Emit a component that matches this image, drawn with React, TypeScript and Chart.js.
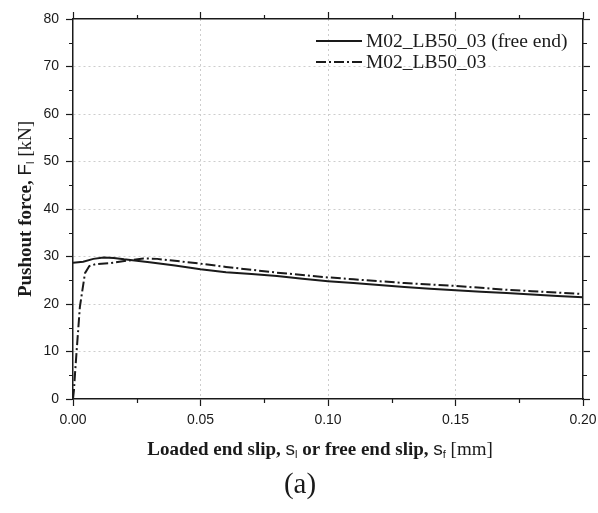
import React, { useEffect, useRef } from "react";
import { Chart, registerables } from "chart.js";

Chart.register(...registerables);

// ---- data ----
const seriesLabels = ["M02_LB50_03 (free end)", "M02_LB50_03"];

const freeEndSlip = [0, 0.004, 0.008, 0.012, 0.016, 0.02, 0.03, 0.04, 0.05, 0.06, 0.07, 0.08, 0.09, 0.1, 0.11, 0.12, 0.13, 0.14, 0.15, 0.16, 0.17, 0.18, 0.19, 0.2];
const freeEndForce = [28.7, 28.9, 29.5, 29.8, 29.7, 29.4, 28.8, 28.1, 27.3, 26.7, 26.3, 25.9, 25.3, 24.8, 24.4, 24.0, 23.6, 23.2, 22.9, 22.6, 22.3, 22.0, 21.7, 21.4];

const loadedSlip = [0, 0.0004, 0.0008, 0.00145, 0.0027, 0.0047, 0.0064, 0.009, 0.0145, 0.021, 0.0276, 0.033, 0.038, 0.045, 0.05, 0.06, 0.07, 0.08, 0.09, 0.1, 0.11, 0.12, 0.13, 0.14, 0.15, 0.16, 0.17, 0.18, 0.19, 0.2];
const loadedForce = [0, 2, 5.4, 10.3, 19.4, 26.5, 28.0, 28.4, 28.6, 29.1, 29.6, 29.5, 29.2, 28.8, 28.5, 27.8, 27.2, 26.6, 26.1, 25.6, 25.2, 24.8, 24.4, 24.1, 23.8, 23.4, 23.0, 22.7, 22.4, 22.1];

const xMajorTicks = [0, 0.05, 0.1, 0.15, 0.2];
const xMinorTicks = [0.025, 0.075, 0.125, 0.175];
const yMajorTicks = [0, 10, 20, 30, 40, 50, 60, 70, 80];
const yMinorTicks = [5, 15, 25, 35, 45, 55, 65, 75];

const xTitleParts = ["Loaded end slip, ", "s", "l", " or free end slip, ", "s", "f", " [mm]"];
const yTitleParts = ["Pushout force, ", "F", "l", " [kN]"];
const panelLabel = "(a)";

const INK = "#1a1a1a";
const GRID = "#cdcdcd";
const SERIF = "'Liberation Serif', 'Times New Roman', serif";
const SANS = "'Liberation Sans', Arial, sans-serif";

type Run = { t: string; font: string; dy?: number };

function drawRuns(ctx: CanvasRenderingContext2D, runs: Run[], cx: number, baseline: number) {
  const widths = runs.map((r) => {
    ctx.font = r.font;
    return ctx.measureText(r.t).width;
  });
  const total = widths.reduce((a, b) => a + b, 0);
  let x = cx - total / 2;
  ctx.textBaseline = "alphabetic";
  ctx.textAlign = "left";
  runs.forEach((r, i) => {
    ctx.font = r.font;
    ctx.fillText(r.t, x, baseline + (r.dy || 0));
    x += widths[i];
  });
}

const decorPlugin = {
  id: "decor",
  afterDraw(chart: any) {
    const ctx: CanvasRenderingContext2D = chart.ctx;
    const xs = chart.scales.x;
    const ys = chart.scales.y;
    const area = chart.chartArea;
    ctx.save();
    // minor ticks
    ctx.strokeStyle = INK;
    ctx.lineWidth = 1.2;
    ctx.setLineDash([]);
    ctx.beginPath();
    xMinorTicks.forEach((v) => {
      const px = Math.round(xs.getPixelForValue(v)) + 0.5;
      ctx.moveTo(px, area.bottom);
      ctx.lineTo(px, area.bottom + 4);
      ctx.moveTo(px, area.top);
      ctx.lineTo(px, area.top - 4);
    });
    yMinorTicks.forEach((v) => {
      const py = Math.round(ys.getPixelForValue(v)) + 0.5;
      ctx.moveTo(area.left, py);
      ctx.lineTo(area.left - 4, py);
      ctx.moveTo(area.right, py);
      ctx.lineTo(area.right + 4, py);
    });
    ctx.stroke();

    // legend
    const lx0 = 316, lx1 = 362, tx = 366;
    const rows = [41, 62];
    const dashes = [[], [10, 3, 2, 3]];
    ctx.fillStyle = INK;
    rows.forEach((y, i) => {
      ctx.beginPath();
      ctx.lineWidth = 2;
      ctx.setLineDash(dashes[i]);
      ctx.moveTo(lx0, y);
      ctx.lineTo(lx1, y);
      ctx.stroke();
      ctx.setLineDash([]);
      ctx.font = `19.5px ${SERIF}`;
      ctx.textBaseline = "middle";
      ctx.textAlign = "left";
      ctx.fillText(seriesLabels[i], tx, y + 1);
    });

    // x title
    const bold = `bold 19px ${SERIF}`;
    const sans = `19px ${SANS}`;
    const sub = `11px ${SANS}`;
    const reg = `19px ${SERIF}`;
    drawRuns(
      ctx,
      [
        { t: xTitleParts[0], font: bold },
        { t: xTitleParts[1], font: sans },
        { t: xTitleParts[2], font: sub, dy: 3 },
        { t: xTitleParts[3], font: bold },
        { t: xTitleParts[4], font: sans },
        { t: xTitleParts[5], font: sub, dy: 3 },
        { t: xTitleParts[6], font: reg },
      ],
      320,
      455
    );

    // y title
    ctx.save();
    ctx.translate(31, 209);
    ctx.rotate(-Math.PI / 2);
    drawRuns(
      ctx,
      [
        { t: yTitleParts[0], font: bold },
        { t: yTitleParts[1], font: sans },
        { t: yTitleParts[2], font: sub, dy: 3 },
        { t: yTitleParts[3], font: reg },
      ],
      0,
      0
    );
    ctx.restore();

    // panel label
    ctx.font = `29px ${SERIF}`;
    ctx.textAlign = "center";
    ctx.textBaseline = "alphabetic";
    ctx.fillText(panelLabel, 300, 493);
    ctx.restore();
  },
};

function gridColor(min: number, max: number) {
  return (c: any) => {
    const v = c.tick ? c.tick.value : null;
    if (v === null) return GRID;
    if (Math.abs(v - min) < 1e-9 || Math.abs(v - max) < 1e-9) return "rgba(0,0,0,0)";
    return GRID;
  };
}

function noPad(s: any) {
  s.paddingLeft = 0;
  s.paddingRight = 0;
  s.paddingTop = 0;
  s.paddingBottom = 0;
}

export default function App() {
  const ref = useRef<HTMLCanvasElement>(null);

  useEffect(() => {
    document.body.style.margin = "0";
    const canvas = ref.current;
    if (!canvas) return;
    const tickFont = { family: SANS, size: 14 };
    const chart = new Chart(canvas, {
      type: "scatter",
      data: {
        datasets: [
          {
            label: seriesLabels[0],
            data: freeEndSlip.map((x, i) => ({ x, y: freeEndForce[i] })),
            showLine: true,
            borderColor: INK,
            backgroundColor: INK,
            borderWidth: 2,
            pointRadius: 0,
            tension: 0,
            fill: false,
          },
          {
            label: seriesLabels[1],
            data: loadedSlip.map((x, i) => ({ x, y: loadedForce[i] })),
            showLine: true,
            borderColor: INK,
            backgroundColor: INK,
            borderWidth: 2,
            borderDash: [10, 3, 2, 3],
            pointRadius: 0,
            tension: 0,
            fill: false,
          },
        ],
      },
      options: {
        responsive: false,
        animation: false,
        events: [],
        layout: { padding: 0 },
        plugins: {
          legend: { display: false },
          tooltip: { enabled: false },
          title: { display: false },
        },
        scales: {
          x: {
            type: "linear",
            position: "bottom",
            min: 0,
            max: 0.2,
            afterBuildTicks: (s: any) => {
              s.ticks = xMajorTicks.map((v) => ({ value: v }));
            },
            afterFit: (s: any) => {
              s.height = 114;
              noPad(s);
            },
            ticks: {
              callback: (v: any) => Number(v).toFixed(2),
              color: INK,
              font: tickFont,
              padding: 6,
              maxRotation: 0,
              autoSkip: false,
            },
            grid: {
              color: gridColor(0, 0.2),
              lineWidth: 1,
              tickLength: 7,
              tickColor: INK,
              tickWidth: 1.2,
              tickBorderDash: [],
            },
            border: { color: INK, width: 1.5, dash: [2, 3] },
          },
          x2: {
            type: "linear",
            position: "top",
            min: 0,
            max: 0.2,
            afterBuildTicks: (s: any) => {
              s.ticks = xMajorTicks.map((v) => ({ value: v }));
            },
            afterFit: (s: any) => {
              s.height = 19;
              noPad(s);
            },
            ticks: { display: false },
            grid: {
              drawOnChartArea: false,
              tickLength: 7,
              tickColor: INK,
              tickWidth: 1.2,
            },
            border: { color: INK, width: 1.5 },
          },
          y: {
            type: "linear",
            position: "left",
            min: 0,
            max: 80,
            afterBuildTicks: (s: any) => {
              s.ticks = yMajorTicks.map((v) => ({ value: v }));
            },
            afterFit: (s: any) => {
              s.width = 73;
              noPad(s);
            },
            ticks: {
              callback: (v: any) => String(v),
              color: INK,
              font: tickFont,
              padding: 7,
              autoSkip: false,
            },
            grid: {
              color: gridColor(0, 80),
              lineWidth: 1,
              tickLength: 7,
              tickColor: INK,
              tickWidth: 1.2,
              tickBorderDash: [],
            },
            border: { color: INK, width: 1.5, dash: [2, 3] },
          },
          y2: {
            type: "linear",
            position: "right",
            min: 0,
            max: 80,
            afterBuildTicks: (s: any) => {
              s.ticks = yMajorTicks.map((v) => ({ value: v }));
            },
            afterFit: (s: any) => {
              s.width = 15;
              noPad(s);
            },
            ticks: { display: false },
            grid: {
              drawOnChartArea: false,
              tickLength: 7,
              tickColor: INK,
              tickWidth: 1.2,
            },
            border: { color: INK, width: 1.5 },
          },
        },
      } as any,
      plugins: [decorPlugin],
    });
    return () => chart.destroy();
  }, []);

  return (
    <div style={{ position: "fixed", left: 0, top: 0, width: 598, height: 513, background: "#fff" }}>
      <canvas ref={ref} width={598} height={513} style={{ display: "block" }} />
    </div>
  );
}
